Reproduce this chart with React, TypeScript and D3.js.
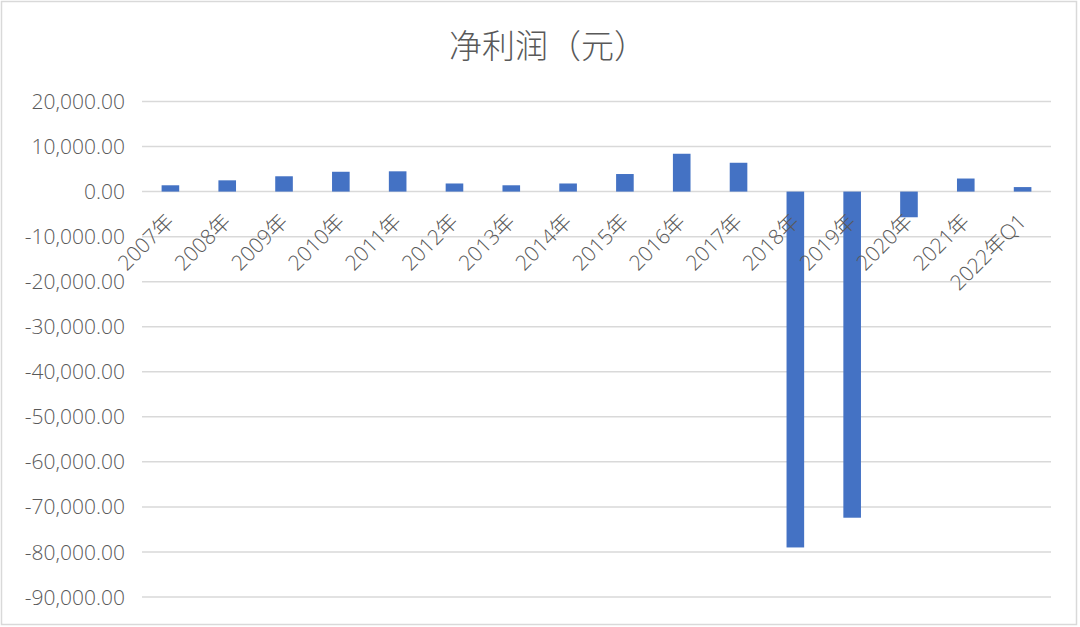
import React from 'react';
import * as d3 from 'd3';

const categories = [
  '2007年', '2008年', '2009年', '2010年', '2011年', '2012年', '2013年', '2014年',
  '2015年', '2016年', '2017年', '2018年', '2019年', '2020年', '2021年', '2022年Q1',
];
const netProfit = [
  1400, 2500, 3400, 4400, 4500, 1800, 1400, 1800,
  3900, 8400, 6400, -79000, -72400, -5700, 2900, 1000,
];
const yTicks = [20000, 10000, 0, -10000, -20000, -30000, -40000, -50000, -60000, -70000, -80000, -90000];

const W = 1080;
const H = 627;
const FONT = '"Open Sans", "Noto Sans CJK SC", sans-serif';
const CJK = '"Noto Sans CJK SC", "Noto Sans", sans-serif';

const fmt = d3.formatLocale({
  decimal: '.',
  thousands: ',',
  grouping: [3],
  currency: ['', ''],
  minus: '-',
}).format(',.2f');

const App: React.FC = () => {
  const x = d3.scaleBand<string>()
    .domain(categories)
    .range([142, 1051])
    .paddingInner(0.69)
    .paddingOuter(0.345);

  const y = d3.scaleLinear().domain([-90000, 20000]).range([597, 101.5]);

  return (
    <svg width={W} height={H} style={{ position: 'absolute', left: 0, top: 0, background: '#fff' }}>
      <rect x={1.5} y={1.5} width={W - 5} height={H - 4} fill="#fff" stroke="#d9d9d9" strokeWidth={1.5} />

      <text x={548} y={58} textAnchor="middle" fontFamily={CJK} fontWeight={300} fontSize={33} fill="#595959">
        净利润（元）
      </text>

      {yTicks.map(t => (
        <g key={t}>
          <line x1={142} x2={1051} y1={y(t)} y2={y(t)} stroke="#d9d9d9" strokeWidth={1.5} />
          <text x={125} y={y(t)} dy="0.36em" textAnchor="end" fontFamily={FONT} fontWeight={300} fontSize={21} fill="#595959">
            {fmt(t)}
          </text>
        </g>
      ))}

      {netProfit.map((v, i) => (
        <rect
          key={categories[i]}
          x={x(categories[i])}
          width={x.bandwidth()}
          y={y(Math.max(0, v))}
          height={Math.abs(y(v) - y(0))}
          fill="#4472C4"
        />
      ))}

      {categories.map(c => {
        const cx = (x(c) ?? 0) + x.bandwidth() / 2;
        return (
          <text
            key={c}
            transform={`translate(${cx + 5},${223}) rotate(-45)`}
            textAnchor="end"
            fontFamily={FONT}
            fontWeight={300}
            fontSize={21}
            fill="#595959"
          >
            {c}
          </text>
        );
      })}
    </svg>
  );
};

export default App;
